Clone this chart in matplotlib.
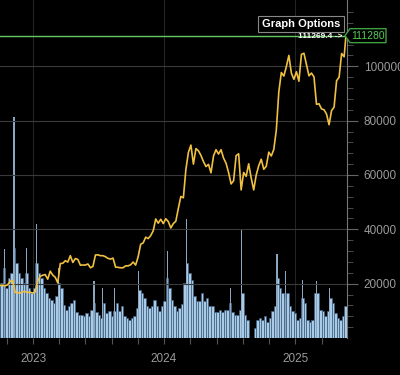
import matplotlib
matplotlib.use("Agg")
import matplotlib.pyplot as plt
import matplotlib.dates as mdates
import matplotlib.transforms as mtransforms
from matplotlib.patches import Polygon
import numpy as np
import pandas as pd

plt.rcParams["font.family"] = ["Liberation Sans", "DejaVu Sans"]

# weekly closes, starting 2022-10-01
week_start = "2022-10-01"
prices = [
    19300, 19450, 19200, 19550, 20800, 21300, 16800, 16700, 16500, 17000, 17100, 16750, 16850, 16550,
    # 2023
    16950, 20900, 22700, 23100, 23350, 21650, 24600, 23150, 22350, 20300, 27400, 27500,
    28450, 27950, 30300, 27800, 29250, 28900, 26800, 26850, 26850, 27250, 25850, 26350,
    30550, 30600, 30300, 30300, 29900, 29300, 29050, 29400, 26100, 26000, 25850, 25850,
    26550, 26550, 26950, 27950, 26850, 29900, 34500, 35000, 37100, 36600, 37700, 39450,
    43800, 42250, 43700, 42100,
    # 2024
    43900, 42850, 40500, 42100, 43000, 47700, 52100, 51600, 62000, 68300, 71000, 64000,
    69700, 68900, 67200, 64900, 63100, 63900, 60800, 67000, 69300, 67700, 69300, 66200,
    64300, 60900, 56700, 57900, 67100, 67800, 54500, 60900, 59500, 64100, 58900, 54500,
    60000, 63400, 65800, 62100, 63200, 68400, 67000, 69400, 76500, 90600, 97700, 96400,
    99900, 104000, 97500, 95200,
    # 2025
    98000, 94500, 104400, 104800, 100600, 96500, 97500, 96100, 86000, 86200, 84300, 84000,
    82400, 78500, 83700, 85000, 94700, 96000, 104700, 103500,
]
last_date = "2025-05-22"
last_price = 111280
cursor_price = 111269.4

# weekly volume (typical daily level), same weeks as prices
volumes = [
    55, 70, 50, 60, 65, 90, 75, 65, 60, 55, 65, 50, 45, 50,
    75, 65, 60, 50, 45, 40, 38, 35, 42, 55, 50, 33, 28, 32, 35, 38,
    26, 23, 23, 22, 25, 22, 28, 35, 26, 23, 20, 35, 25, 27, 22, 27,
    35, 27, 32, 22, 20, 18, 20, 22, 30, 48, 45, 40, 32, 30, 32, 38,
    32, 27, 32, 37, 60, 50, 38, 32, 27, 30, 34, 55, 75, 65, 58, 42,
    37, 37, 45, 37, 40, 32, 32, 26, 26, 28, 26, 28, 28, 35, 26, 23,
    23, 28, 45, 23, 18, 0, 0, 10, 18, 20, 18, 22, 16, 20, 27, 32,
    60, 50, 45, 40, 45, 32, 27, 25, 18, 20, 40, 35, 18, 16, 18, 45,
    45, 28, 27, 22, 27, 40, 35, 25, 20, 18, 22, 32,
]

# single-day volume spikes
spike_dates = [
    "2022-10-13", "2022-11-09", "2022-12-15", "2023-01-12", "2023-03-13",
    "2023-06-20", "2023-07-13", "2023-08-17", "2023-10-23", "2024-01-11",
    "2024-03-05", "2024-07-04", "2024-08-05", "2024-11-11", "2024-12-05",
    "2025-01-20", "2025-02-28", "2025-04-07",
]
spike_volumes = [
    89, 221, 90, 114, 70,
    57, 50, 50, 67, 87,
    119, 50, 109, 84, 67,
    58, 57, 50,
]

weeks = pd.date_range(week_start, periods=len(prices), freq="7D")
price_dates = list(weeks) + [pd.Timestamp(last_date)]
price_vals = prices + [last_price]
x_left, x_right = pd.Timestamp("2022-10-01"), pd.Timestamp("2025-05-25")

fig = plt.figure(figsize=(4, 3.75), dpi=100, facecolor="black")
ax = fig.add_axes([0, 37 / 375, 347 / 400, 338 / 375])
ax.set_facecolor("black")

ax.bar(weeks, volumes, width=7, align="edge", color="#a9cbe8",
       edgecolor="#3f5f7e", linewidth=0.5, zorder=2)
ax.bar(pd.to_datetime(spike_dates), spike_volumes, width=3, color="#8aa6c0",
       linewidth=0, zorder=2)
ax.set_ylim(0, 338)
ax.set_yticks([])

ax2 = ax.twinx()
ax2.set_ylim(0, 124400)
ax2.plot(price_dates, price_vals, color="#f0c040", lw=1.2, zorder=3)
ax2.axhline(last_price, color="#62c862", lw=1.0, zorder=4)

# x ticks: years, minor every fifth of a year
ax.xaxis.set_major_locator(mdates.YearLocator())
ax.xaxis.set_major_formatter(mdates.DateFormatter("%Y"))
minor = []
for yr in range(2022, 2026):
    y0 = pd.Timestamp(f"{yr}-01-01")
    span = (pd.Timestamp(f"{yr + 1}-01-01") - y0) / 5
    for k in range(1, 5):
        d = y0 + k * span
        if x_left <= d <= x_right:
            minor.append(mdates.date2num(d))
ax.set_xticks(minor, minor=True)
ax.set_xlim(x_left, x_right)
ax.tick_params(axis="x", which="both", colors="#555555", length=4, width=0.8,
               labelcolor="#9a9a9a", labelsize=8.5, pad=7)
ax.grid(axis="x", which="major", color="#242424", lw=0.8, zorder=0)
for s in ax.spines.values():
    s.set_visible(False)

ax2.set_yticks([20000, 40000, 60000, 80000, 100000])
ax2.set_yticklabels(["20000", "40000", "60000", "80000", "100000"])
ax2.set_yticks(np.arange(4000, 124000, 4000), minor=True)
ax2.set_ylim(0, 124400)
ax2.tick_params(axis="y", which="major", colors="#666666", length=8, width=0.8,
                labelcolor="#9a9a9a", labelsize=8.5, pad=4)
ax2.tick_params(axis="y", which="minor", colors="#555555", length=4, width=0.6)
ax2.grid(axis="y", which="major", color="#3a3a3a", lw=0.8, zorder=1)
for side, s in ax2.spines.items():
    s.set_visible(side == "right")
ax2.spines["right"].set_color("#777777")

fig.text(301 / 400, 1 - 24 / 375, "Graph Options", ha="center", va="center",
         color="white", fontsize=8, fontweight="bold",
         bbox=dict(boxstyle="square,pad=0.3", fc="black", ec="#888888", lw=0.8))
fig.text(342 / 400, 1 - 37 / 375, f"{cursor_price} ->", ha="right", va="center",
         color="white", fontsize=6, fontweight="bold", zorder=5)

# price tag on the right
_, yd = ax2.transData.transform((0, last_price))
tag = Polygon([(345, yd), (350, yd + 7), (386, yd + 7), (386, yd - 7), (350, yd - 7)],
              closed=True, fc="black", ec="#3fa03f", lw=1.0,
              transform=mtransforms.IdentityTransform())
fig.add_artist(tag)
fig.text(368 / 400, yd / 375, str(last_price), ha="center", va="center",
         color="#55cc55", fontsize=7.5)

fig.savefig("out.png", dpi=100, facecolor="black")
